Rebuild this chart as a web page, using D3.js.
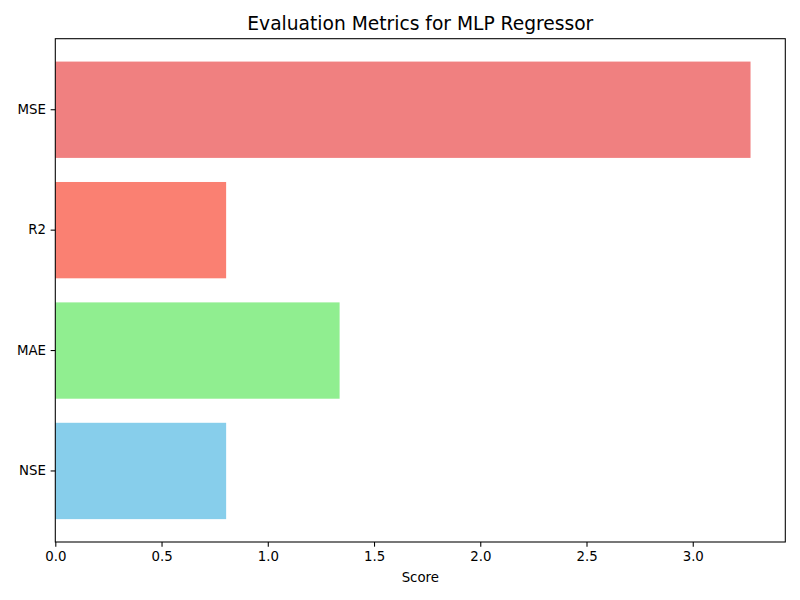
<!DOCTYPE html>
<html>
<head>
<meta charset="utf-8">
<script src="https://cdn.jsdelivr.net/npm/d3@7"></script>
<style>
  body { margin: 0; background: #fff; }
  text { font-family: "DejaVu Sans", sans-serif; fill: #000; }
</style>
</head>
<body>
<div id="chart"></div>
<script>
// metrics as plotted, top to bottom
const metrics = ['MSE', 'R2', 'MAE', 'NSE']
const scores = [3.272, 0.804, 1.338, 0.804]
const barColors = ['#F08080', '#FA8072', '#90EE90', '#87CEEB']
const xTicks = [0, 0.5, 1.0, 1.5, 2.0, 2.5, 3.0]

const width = 800
const height = 600
const margin = { top: 38.7, right: 14.7, bottom: 58, left: 55.3 }
const innerW = width - margin.left - margin.right
const innerH = height - margin.top - margin.bottom

const svg = d3.select('#chart')
    .append('svg')
    .attr('width', width)
    .attr('height', height)

const chartArea = svg.append('g')
    .attr('transform', `translate(${margin.left},${margin.top})`)

const x = d3.scaleLinear()
    .domain([0, d3.max(scores) * 1.05])
    .range([0, innerW])

const y = d3.scaleBand()
    .domain(metrics)
    .range([0, innerH])
    .paddingInner(0.2)
    .paddingOuter(0.19)

chartArea.selectAll('rect.bar')
    .data(metrics)
    .enter()
    .append('rect')
    .attr('class', 'bar')
    .attr('x', x(0))
    .attr('y', d => y(d))
    .attr('width', (d, i) => x(scores[i]) - x(0))
    .attr('height', y.bandwidth())
    .attr('fill', (d, i) => barColors[i])

// axes
const xAxis = d3.axisBottom(x)
    .tickValues(xTicks)
    .tickFormat(d3.format('.1f'))
    .tickSizeInner(4.67)
    .tickSizeOuter(0)
    .tickPadding(4.67)

const yAxis = d3.axisLeft(y)
    .tickSizeInner(4.67)
    .tickSizeOuter(0)
    .tickPadding(4.67)

const gx = chartArea.append('g')
    .attr('transform', `translate(0,${innerH})`)
    .call(xAxis)
const gy = chartArea.append('g').call(yAxis)

for (const g of [gx, gy]) {
    g.select('.domain').remove()
    g.selectAll('.tick line').attr('stroke', '#000').attr('stroke-width', 1.07)
    g.selectAll('.tick text')
        .style('font-family', '"DejaVu Sans", sans-serif')
        .style('font-size', '13.33px')
        .attr('fill', '#000')
}

// spines
chartArea.append('rect')
    .attr('x', 0)
    .attr('y', 0)
    .attr('width', innerW)
    .attr('height', innerH)
    .attr('fill', 'none')
    .attr('stroke', '#000')
    .attr('stroke-width', 1.07)

svg.append('text')
    .attr('x', margin.left + innerW / 2)
    .attr('y', 30)
    .attr('text-anchor', 'middle')
    .style('font-size', '18.67px')
    .text('Evaluation Metrics for MLP Regressor')

svg.append('text')
    .attr('x', margin.left + innerW / 2)
    .attr('y', 582)
    .attr('text-anchor', 'middle')
    .style('font-size', '13.33px')
    .text('Score')
</script>
</body>
</html>
